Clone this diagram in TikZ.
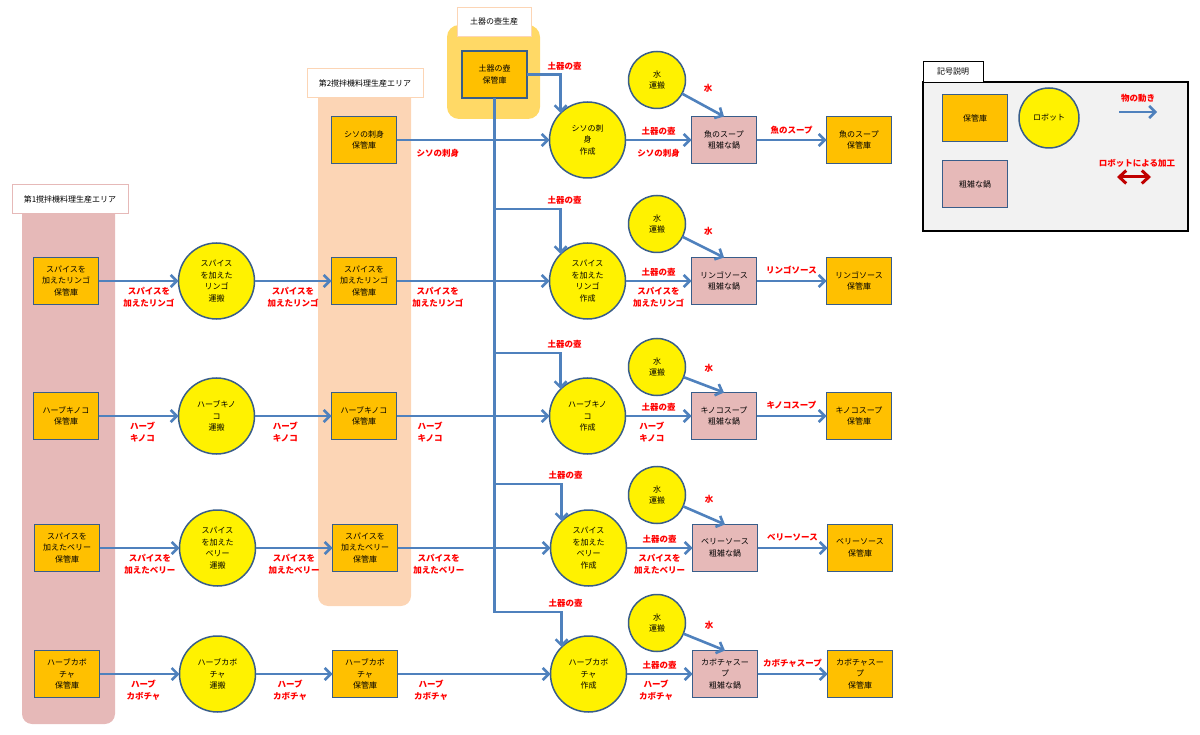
\documentclass[tikz,border=0pt]{standalone}
\usepackage{fontspec}
\setmainfont{Noto Sans CJK JP}
\usetikzlibrary{arrows.meta,positioning}

\definecolor{stockorange}{HTML}{FFC000}
\definecolor{edgeblue}{HTML}{385D8A}
\definecolor{flowblue}{HTML}{4F81BD}
\definecolor{potpink}{HTML}{E6B9B8}
\definecolor{areaone}{HTML}{E6B9B8}
\definecolor{areatwo}{HTML}{FCD5B5}
\definecolor{areapot}{HTML}{FFD966}
\definecolor{legendgray}{HTML}{F2F2F2}
\definecolor{workred}{HTML}{C00000}

\begin{document}
\begin{tikzpicture}[x=1pt,y=-1pt,>={Straight Barb[length=6pt,width=12pt]},
  font=\fontsize{8}{11.5}\selectfont,
  stock/.style={draw=edgeblue,line width=1.5pt,fill=stockorange,minimum width=65pt,minimum height=47pt,inner sep=1pt,outer sep=0pt,align=center},
  pot/.style={stock,fill=potpink},
  robot/.style={circle,draw=edgeblue,line width=1.5pt,fill=yellow,minimum size=76pt,inner sep=0pt,outer sep=0pt,align=center},
  water/.style={robot,minimum size=57pt},
  flow/.style={->,draw=flowblue,line width=2.6pt},
  work/.style={{Straight Barb[length=7pt,width=13pt]}-{Straight Barb[length=7pt,width=13pt]},draw=workred,line width=3pt},
  flowtag/.style={text=red,font=\fontsize{8.5}{11.8}\selectfont\bfseries,align=center,inner sep=1pt},
  areabox/.style={draw,fill=white,line width=0.8pt,minimum height=29pt,inner sep=3pt}]

\useasboundingbox (0,0) rectangle (1200,735);

% production areas
\fill[areaone,rounded corners=10pt] (22,199) rectangle (115,724);
\fill[areatwo,rounded corners=10pt] (318,85) rectangle (411,606);
\fill[areapot,rounded corners=12pt] (447,25) rectangle (540,119);
\node[areabox,draw=areaone,minimum width=116pt] (ar1) at (70,199) {第1撹拌機料理生産エリア};
\node[areabox,draw=areatwo,minimum width=116pt] (ar2) at (365,83) {第2撹拌機料理生産エリア};
\node[areabox,draw=areatwo,minimum width=74pt] (ar3) at (494,21.5) {土器の壺生産};

% pot storage
\node[stock] (ps) at (494.5,74.5) {土器の壺\\保管庫};

% row 0
\node[stock] (sb0) at (364,140) {シソの刺身\\保管庫};
\node[robot] (cr0) [right=153pt of sb0] {シソの刺\\身\\作成};
\node[pot] (pt0) [right=66pt of cr0] {魚のスープ\\粗雑な鍋};
\node[stock] (fs0) [right=70pt of pt0] {魚のスープ\\保管庫};
\node[water] (wt0) at (657,80) {水\\運搬};

% row 1
\node[stock] (sa1) at (66,281) {スパイスを\\加えたリンゴ\\保管庫};
\node[robot] (ta1) [right=80pt of sa1] {スパイス\\を加えた\\リンゴ\\運搬};
\node[stock] (sb1) [right=77pt of ta1] {スパイスを\\加えたリンゴ\\保管庫};
\node[robot] (cr1) [right=153pt of sb1] {スパイス\\を加えた\\リンゴ\\作成};
\node[pot] (pt1) [right=66pt of cr1] {リンゴソース\\粗雑な鍋};
\node[stock] (fs1) [right=70pt of pt1] {リンゴソース\\保管庫};
\node[water] (wt1) at (657,224) {水\\運搬};

% row 2
\node[stock] (sa2) at (66,416) {ハーブキノコ\\保管庫};
\node[robot] (ta2) [right=80pt of sa2] {ハーブキノ\\コ\\運搬};
\node[stock] (sb2) [right=77pt of ta2] {ハーブキノコ\\保管庫};
\node[robot] (cr2) [right=153pt of sb2] {ハーブキノ\\コ\\作成};
\node[pot] (pt2) [right=66pt of cr2] {キノコスープ\\粗雑な鍋};
\node[stock] (fs2) [right=70pt of pt2] {キノコスープ\\保管庫};
\node[water] (wt2) at (657,367) {水\\運搬};

% row 3
\node[stock] (sa3) at (67,548) {スパイスを\\加えたベリー\\保管庫};
\node[robot] (ta3) [right=80pt of sa3] {スパイス\\を加えた\\ベリー\\運搬};
\node[stock] (sb3) [right=77pt of ta3] {スパイスを\\加えたベリー\\保管庫};
\node[robot] (cr3) [right=153pt of sb3] {スパイス\\を加えた\\ベリー\\作成};
\node[pot] (pt3) [right=66pt of cr3] {ベリーソース\\粗雑な鍋};
\node[stock] (fs3) [right=70pt of pt3] {ベリーソース\\保管庫};
\node[water] (wt3) at (657,495) {水\\運搬};

% row 4
\node[stock] (sa4) at (67,674) {ハーブカボ\\チャ\\保管庫};
\node[robot] (ta4) [right=80pt of sa4] {ハーブカボ\\チャ\\運搬};
\node[stock] (sb4) [right=77pt of ta4] {ハーブカボ\\チャ\\保管庫};
\node[robot] (cr4) [right=153pt of sb4] {ハーブカボ\\チャ\\作成};
\node[pot] (pt4) [right=66pt of cr4] {カボチャスー\\プ\\粗雑な鍋};
\node[stock] (fs4) [right=70pt of pt4] {カボチャスー\\プ\\保管庫};
\node[water] (wt4) at (657,623) {水\\運搬};

% pot supply
\coordinate (j1) at (494.5,209);
\coordinate (j2) at (494.5,353);
\coordinate (j3) at (494.5,484);
\coordinate (j4) at (494.5,612);
\draw[flow] (ps.east) -| node[flowtag,above=2pt,xshift=4pt] {土器の壺} (cr0.north west);
\draw[flow] (j1) -| node[flowtag,above=2pt,xshift=4pt] {土器の壺} (cr1.north west);
\draw[flow] (j2) -| node[flowtag,above=2pt,xshift=4pt] {土器の壺} (cr2.north west);
\draw[flow] (j3) -| node[flowtag,above=2pt,xshift=4pt] {土器の壺} (cr3.north west);
\draw[flow] (ps.south) -- (j4) -| node[flowtag,above=2pt,xshift=4pt] {土器の壺} (cr4.north west);

% flows
\path[flow] (sb0) edge node[flowtag,below=7pt,pos=0.27] {シソの刺身} (cr0)
            (cr0) edge node[flowtag,above=2pt] {土器の壺} node[flowtag,below=7pt] {シソの刺身} (pt0)
            (pt0) edge node[flowtag,above=3pt] {魚のスープ} (fs0)
            (wt0) edge node[flowtag,above=10pt,xshift=5pt] {水} (pt0.north);

\path[flow] (sa1) edge node[flowtag,below=4pt,pos=0.63] {スパイスを\\加えたリンゴ} (ta1)
            (ta1) edge node[flowtag,below=4pt] {スパイスを\\加えたリンゴ} (sb1)
            (sb1) edge node[flowtag,below=4pt,pos=0.27] {スパイスを\\加えたリンゴ} (cr1)
            (cr1) edge node[flowtag,above=2pt] {土器の壺} node[flowtag,below=4pt] {スパイスを\\加えたリンゴ} (pt1)
            (pt1) edge node[flowtag,above=5pt] {リンゴソース} (fs1)
            (wt1) edge node[flowtag,above=10pt,xshift=5pt] {水} (pt1.north);

\path[flow] (sa2) edge node[flowtag,below=4pt,pos=0.55] {ハーブ\\キノコ} (ta2)
            (ta2) edge node[flowtag,below=4pt,pos=0.4] {ハーブ\\キノコ} (sb2)
            (sb2) edge node[flowtag,below=4pt,pos=0.22] {ハーブ\\キノコ} (cr2)
            (cr2) edge node[flowtag,above=2pt] {土器の壺} node[flowtag,below=4pt,pos=0.4] {ハーブ\\キノコ} (pt2)
            (pt2) edge node[flowtag,above=5pt] {キノコスープ} (fs2)
            (wt2) edge node[flowtag,above=10pt,xshift=5pt] {水} (pt2.north);

\path[flow] (sa3) edge node[flowtag,below=4pt,pos=0.63] {スパイスを\\加えたベリー} (ta3)
            (ta3) edge node[flowtag,below=4pt] {スパイスを\\加えたベリー} (sb3)
            (sb3) edge node[flowtag,below=4pt,pos=0.27] {スパイスを\\加えたベリー} (cr3)
            (cr3) edge node[flowtag,above=2pt] {土器の壺} node[flowtag,below=4pt] {スパイスを\\加えたベリー} (pt3)
            (pt3) edge node[flowtag,above=5pt] {ベリーソース} (fs3)
            (wt3) edge node[flowtag,above=10pt,xshift=5pt] {水} (pt3.north);

\path[flow] (sa4) edge node[flowtag,below=4pt,pos=0.55] {ハーブ\\カボチャ} (ta4)
            (ta4) edge node[flowtag,below=4pt,pos=0.45] {ハーブ\\カボチャ} (sb4)
            (sb4) edge node[flowtag,below=4pt,pos=0.22] {ハーブ\\カボチャ} (cr4)
            (cr4) edge node[flowtag,above=2pt] {土器の壺} node[flowtag,below=4pt,pos=0.45] {ハーブ\\カボチャ} (pt4)
            (pt4) edge node[flowtag,above=4pt] {カボチャスープ} (fs4)
            (wt4) edge node[flowtag,above=10pt,xshift=5pt] {水} (pt4.north);

% legend
\draw[fill=legendgray,line width=1.5pt] (923,82) rectangle (1188,231);
\node[draw,fill=white,line width=0.8pt,minimum width=60pt,minimum height=21pt,inner sep=1pt] (lgtab) at (953,71.5) {記号説明};
\node[stock] (lgs) at (975,118) {保管庫};
\node[robot,minimum size=60pt] (lgr) at (1049,118) {ロボット};
\node[pot] (lgp) at (975,184) {粗雑な鍋};
\node[flowtag] (lgflow) at (1138,98) {物の動き};
\coordinate (lga) at (1119,112);
\coordinate (lgb) at (1157,112);
\draw[flow] (lga) -- (lgb);
\node[flowtag] (lgwork) at (1137,163) {ロボットによる加工};
\coordinate (lgc) at (1117,177);
\coordinate (lgd) at (1151,177);
\draw[work] (lgc) -- (lgd);

\end{tikzpicture}
\end{document}
